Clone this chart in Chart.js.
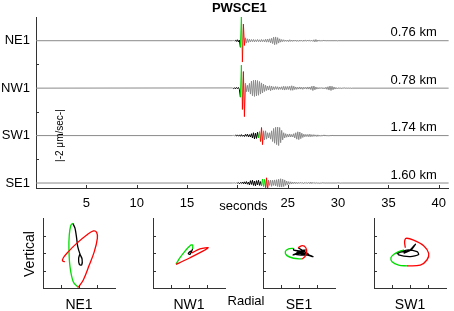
<!DOCTYPE html>
<html>
<head>
<meta charset="utf-8">
<script src="https://cdn.jsdelivr.net/npm/chart.js@4.4.1/dist/chart.umd.min.js"></script>
<style>
  html, body { margin: 0; padding: 0; background: #fff; }
  #wrap { position: relative; width: 454px; height: 311px; }
  #wrap canvas { position: absolute; left: 0; top: 0; }
</style>
</head>
<body>
<div id="wrap">
  <canvas id="traces" width="454" height="311"></canvas>
  <canvas id="pm0" width="454" height="311"></canvas>
  <canvas id="pm1" width="454" height="311"></canvas>
  <canvas id="pm2" width="454" height="311"></canvas>
  <canvas id="pm3" width="454" height="311"></canvas>
</div>
<script>
// ---- data ----
const stations = ["NE1", "NW1", "SW1", "SE1"];
const distances = ["0.76 km", "0.78 km", "1.74 km", "1.60 km"];
const offsets = [6, 4, 2, 0];
const xTicks = [5, 10, 15, 20, 25, 30, 35, 40];
const xTickLabels = ["5", "10", "15", "", "25", "30", "35", "40"];

// velocity samples (µm/s), every 0.1 s from 19.5 s
const sampleStart = 19.5;
const sampleStep = 0.1;
const ne1Wave = [
  0, 0.01, -0.01, 0.02, -0.03, 0.04, -0.05, 0.03, -0.28, 1.0,
  -0.9, 0.7, -0.2, 0.12, -0.1, 0.08, -0.07, 0.06, -0.05, 0.05,
  -0.04, 0.05, -0.05, 0.04, -0.04, 0.05, -0.04, 0.04, -0.05, 0.05,
  -0.04, 0.04, -0.05, 0.06, -0.06, 0.07, -0.06, 0.08, -0.09, 0.1,
  -0.12, 0.15, -0.17, 0.16, -0.15, 0.13, -0.1, 0.08, -0.06, 0.05,
  -0.04, 0.04, -0.03, 0.03, -0.03, 0.03, -0.04, 0.04, -0.03, 0.03,
  -0.03, 0.03, -0.02, 0.03, -0.03, 0.02, -0.03, 0.03, -0.02, 0.02,
  -0.03, 0.03, -0.02, 0.02, -0.02, 0.03, -0.02, 0.02, -0.02, 0.02,
  -0.03, 0.04, -0.05, 0.05, -0.04, 0.03, -0.02, 0.02, -0.02, 0.01,
  -0.01, 0.02, -0.01, 0.01, -0.01, 0.01, -0.01, 0.01, -0.01, 0.01,
  -0.01, 0.01, -0.01, 0.01, -0.01, 0
];
const nw1Wave = [
  0.01, -0.02, 0.02, -0.03, 0.03, -0.02, 0.03, -0.05, -0.38, 0.97,
  -0.9, 0.7, -1.2, 0.2, -0.15, 0.12, -0.15, 0.2, -0.25, 0.3,
  -0.32, 0.33, -0.35, 0.34, -0.33, 0.32, -0.3, 0.28, -0.25, 0.22,
  -0.2, 0.17, -0.14, 0.12, -0.1, 0.09, -0.08, 0.1, -0.11, 0.09,
  -0.08, 0.06, -0.06, 0.07, -0.05, 0.06, -0.06, 0.05, -0.05, 0.06,
  -0.07, 0.08, -0.08, 0.07, -0.06, 0.07, -0.06, 0.08, -0.09, 0.1,
  -0.09, 0.08, -0.06, 0.05, -0.05, 0.04, -0.04, 0.05, -0.04, 0.04,
  -0.05, 0.04, -0.03, 0.04, -0.04, 0.05, -0.04, 0.05, -0.06, 0.08,
  -0.1, 0.09, -0.07, 0.05, -0.04, 0.03, -0.03, 0.03, -0.02, 0.03,
  -0.03, 0.02, -0.03, 0.04, -0.05, 0.06, -0.08, 0.09, -0.1, 0.08,
  -0.07, 0.05, -0.04, 0.03, -0.03, 0.02, -0.02, 0.02, -0.02, 0.01,
  -0.01, 0.02, -0.01, 0.01, -0.01, 0.01, -0.01, 0.01, -0.01, 0
];
const sw1Wave = [
  0, 0.01, -0.01, 0.02, -0.02, 0.03, -0.02, 0.02, -0.03, 0.04,
  -0.03, 0.02, -0.04, 0.05, -0.03, 0.06, -0.05, 0.04, -0.06, 0.08,
  -0.1, 0.12, -0.14, 0.1, -0.12, 0.14, -0.1, 0.17, -0.25, 0.34,
  -0.38, 0.2, -0.18, 0.2, -0.15, 0.12, -0.1, 0.12, -0.15, 0.2,
  -0.25, 0.3, -0.32, 0.35, -0.38, 0.36, -0.42, 0.34, -0.3, 0.22,
  -0.18, 0.12, -0.1, 0.08, -0.07, 0.06, -0.06, 0.07, -0.06, 0.05,
  -0.06, 0.08, -0.1, 0.12, -0.15, 0.16, -0.17, 0.15, -0.13, 0.1,
  -0.08, 0.06, -0.05, 0.05, -0.04, 0.05, -0.05, 0.06, -0.05, 0.04,
  -0.04, 0.04, -0.03, 0.03, -0.04, 0.03, -0.03, 0.02, -0.03, 0.02,
  -0.02, 0.03, -0.02, 0.02, -0.02, 0.01, -0.02, 0.01, -0.01, 0.01,
  0
];
const se1Wave = [
  0, 0, 0.01, -0.01, 0.01, -0.01, 0.02, -0.03, 0.02, -0.02,
  0.04, -0.03, 0.05, -0.04, 0.06, -0.05, 0.04, -0.08, 0.1, -0.06,
  0.12, -0.1, 0.08, -0.12, 0.1, -0.08, 0.12, -0.1, 0.06, -0.12,
  0.17, -0.15, 0.15, -0.2, 0.22, -0.28, 0.12, -0.1, 0.12, -0.14,
  0.12, -0.1, 0.13, -0.12, 0.14, -0.15, 0.16, -0.17, 0.18, -0.17,
  0.16, -0.15, 0.13, -0.1, 0.08, -0.07, 0.06, -0.05, 0.05, -0.04,
  0.04, -0.03, 0.04, -0.03, 0.03, -0.03, 0.03, -0.02, 0.03, -0.02,
  0.02, -0.03, 0.03, -0.02, 0.02, -0.02, 0.03, -0.03, 0.04, -0.03,
  0.03, -0.02, 0.02, -0.02, 0.02, -0.02, 0.01, -0.02, 0.01, -0.01,
  0.02, -0.01, 0.01, -0.01, 0.01, -0.01, 0.01, -0.01, 0.01, -0.01,
  0.01, -0.01, 0.01, -0.01, 0.01, 0, 0.01, -0.01, 0, 0
];
// time windows: [black start, green start, red start, red end]
const ne1Picks = [19.8, 20.3, 20.5, 20.8];
const nw1Picks = [19.6, 20.3, 20.5, 20.8];
const sw1Picks = [19.8, 22.1, 22.3, 22.6];
const se1Picks = [20.0, 22.4, 22.8, 23.1];

// particle motion (radial, vertical)
const pmStations = ["NE1", "NW1", "SE1", "SW1"];
const pmBlack = [
  [[1.65, 3.7], [1.78, 3.41], [1.87, 2.84], [1.93, 2.36], [2.06, 1.92], [2.17, 1.66], [2.15, 1.31], [2.02, 1.35], [1.98, 1.7], [2.06, 1.98]],
  [[2.2, 2.23], [2.06, 1.92], [1.96, 1.96], [2.09, 2.11], [2.15, 2.0]],
  [[1.7, 2.27], [1.7, 2.17], [2.26, 2.08], [1.8, 1.92], [2.44, 1.89], [1.98, 2.11], [2.78, 1.79], [2.07, 1.98], [1.67, 1.89], [2.35, 2.17], [1.89, 2.04], [2.54, 1.92], [1.95, 2.3]],
  [[1.65, 2.17], [1.28, 1.98], [1.83, 2.17], [2.39, 2.08], [2.48, 1.92], [2.02, 1.79], [1.37, 1.89], [1.33, 2.04], [1.93, 2.11], [2.3, 2.5], [2.06, 2.17], [1.65, 1.98]]
];
const pmGreen = [
  [[1.96, 0.03], [1.68, 0.36], [1.5, 1.22], [1.44, 2.27], [1.46, 3.03], [1.54, 3.56], [1.65, 3.7]],
  [[1.28, 1.37], [1.5, 1.73], [1.78, 2.11], [2.06, 2.42], [2.2, 2.46], [2.2, 2.23]],
  [[2.17, 1.66], [1.7, 1.7], [1.33, 1.85], [1.24, 2.08], [1.42, 2.23], [1.7, 2.27]],
  [[1.83, 1.26], [1.37, 1.31], [1.0, 1.5], [0.94, 1.73], [1.09, 1.92], [1.37, 2.08], [1.65, 2.17]]
];
const pmRed = [
  [[1.96, 0.03], [2.24, 0.46], [2.57, 1.31], [2.85, 2.08], [3.02, 2.84], [2.98, 3.18], [2.8, 3.26], [2.43, 3.03], [1.87, 2.55], [1.41, 2.08], [1.13, 1.73], [1.09, 1.54], [1.22, 1.5]],
  [[2.15, 2.0], [2.61, 2.23], [3.07, 2.3], [2.61, 2.02], [2.06, 1.73], [1.59, 1.5], [1.28, 1.35]],
  [[1.95, 2.3], [2.19, 2.42], [2.38, 2.3], [2.42, 2.04], [2.33, 1.79], [2.17, 1.66]],
  [[1.74, 2.3], [1.7, 2.65], [1.78, 2.84], [2.2, 2.74], [2.76, 2.42], [3.04, 1.98], [2.94, 1.6], [2.57, 1.31], [1.83, 1.26]]
];
const pmTicks = [1, 2, 3];

// ---- style ----
const FONT = '"Liberation Sans", Arial, Helvetica, sans-serif';
const GRAY = '#8a8a8a';
const BLACK = '#000';
const GREEN = '#00dd00';
const RED = '#ff0000';
const AXIS = '#333';
Chart.defaults.font.family = FONT;

const waves = [ne1Wave, nw1Wave, sw1Wave, se1Wave];
const picks = [ne1Picks, nw1Picks, sw1Picks, se1Picks];

function tracePoints(wave, offset) {
  const pts = [{ x: 0, y: offset }];
  wave.forEach((v, i) => {
    pts.push({ x: Math.round((sampleStart + i * sampleStep) * 10) / 10, y: offset + v });
  });
  pts.push({ x: 41, y: offset });
  return pts;
}

function segColor(p, t) {
  if (t < p[0] - 1e-6) return GRAY;
  if (t < p[1] - 1e-6) return BLACK;
  if (t < p[2] - 1e-6) return GREEN;
  if (t < p[3] - 1e-6) return RED;
  return GRAY;
}

// ticks pointing into the plot
const inwardTicks = {
  id: 'inwardTicks',
  afterDraw(chart, args, opts) {
    const { ctx, chartArea: a, scales } = chart;
    ctx.save();
    ctx.strokeStyle = AXIS;
    ctx.lineWidth = 1;
    ctx.beginPath();
    (opts.x || []).forEach(v => {
      const px = Math.round(scales.x.getPixelForValue(v)) + 0.5;
      ctx.moveTo(px, a.bottom);
      ctx.lineTo(px, a.bottom - opts.len);
    });
    (opts.y || []).forEach(v => {
      const py = Math.round(scales.y.getPixelForValue(v)) + 0.5;
      ctx.moveTo(a.left, py);
      ctx.lineTo(a.left + opts.len, py);
    });
    ctx.stroke();
    ctx.restore();
  }
};

const traceLabels = {
  id: 'traceLabels',
  afterDraw(chart) {
    const { ctx, chartArea: a, scales: { x, y } } = chart;
    ctx.save();
    ctx.fillStyle = '#000';
    ctx.font = '13px ' + FONT;
    ctx.textBaseline = 'middle';
    stations.forEach((s, i) => {
      const py = y.getPixelForValue(offsets[i]);
      ctx.textAlign = 'right';
      ctx.fillText(s, a.left - 6, py);
      ctx.fillText(distances[i], x.getPixelForValue(39.8), py - 8);
    });
    ctx.textAlign = 'center';
    ctx.textBaseline = 'alphabetic';
    ctx.font = 'bold 13px ' + FONT;
    ctx.fillText('PWSCE1', x.getPixelForValue(20.2), 12);
    ctx.font = '13px ' + FONT;
    ctx.fillText('seconds', x.getPixelForValue(20.6), 210);
    ctx.fillText('Radial', 246, 305);
    // scale bar
    ctx.translate(60, y.getPixelForValue(2));
    ctx.rotate(-Math.PI / 2);
    ctx.font = '10px ' + FONT;
    ctx.textBaseline = 'middle';
    ctx.fillText('|-2 μm/sec-|', 0, 0);
    ctx.restore();
  }
};

new Chart(document.getElementById('traces'), {
  type: 'line',
  data: {
    datasets: waves.map((w, i) => ({
      label: stations[i],
      data: tracePoints(w, offsets[i]),
      borderColor: GRAY,
      borderWidth: 1,
      pointRadius: 0,
      tension: 0,
      segment: { borderColor: ctx => segColor(picks[i], ctx.p0.parsed.x) }
    }))
  },
  options: {
    responsive: false,
    animation: false,
    layout: { padding: { left: 36, right: 2, top: 17, bottom: 99 } },
    scales: {
      x: {
        type: 'linear',
        min: 0, max: 41,
        afterBuildTicks: axis => { axis.ticks = xTicks.map(v => ({ value: v })); },
        afterFit: s => { s.height = 24; },
        grid: { drawOnChartArea: false, drawTicks: false },
        border: { display: true, color: AXIS, width: 1 },
        ticks: {
          color: '#000', font: { size: 13 }, padding: 8, maxRotation: 0, autoSkip: false,
          callback: (v, i) => xTickLabels[i]
        }
      },
      y: {
        min: -0.21, max: 7.0,
        afterFit: s => { s.width = 0; },
        grid: { drawOnChartArea: false, drawTicks: false },
        border: { display: true, color: AXIS, width: 1 },
        ticks: { display: false }
      }
    },
    plugins: {
      legend: { display: false },
      tooltip: { enabled: false },
      inwardTicks: { x: xTicks, y: [1, 3, 5], len: 3 }
    }
  },
  plugins: [inwardTicks, traceLabels]
});

// particle motion panels
const pmLeft = [43, 153, 263, 374];
const pmWidth = 72;

const pmLabel = {
  id: 'pmLabel',
  afterDraw(chart, args, opts) {
    const { ctx, chartArea: a } = chart;
    ctx.save();
    ctx.fillStyle = '#000';
    ctx.font = '14px ' + FONT;
    ctx.textAlign = 'center';
    ctx.fillText(opts.name, (a.left + a.right) / 2, a.bottom + 21);
    if (opts.vertical) {
      ctx.translate(a.left - 9, (a.top + a.bottom) / 2 + 1);
      ctx.rotate(-Math.PI / 2);
      ctx.fillText('Vertical', 0, 0);
    }
    ctx.restore();
  }
};

pmStations.forEach((name, k) => {
  const line = (data, color, tension) => ({
    data: data,
    borderColor: color,
    borderWidth: 1.3,
    pointRadius: 0,
    showLine: true,
    tension: tension
  });
  new Chart(document.getElementById('pm' + k), {
    type: 'scatter',
    data: {
      datasets: [
        line(pmRed[k], RED, 0.35),
        line(pmGreen[k], GREEN, 0.35),
        line(pmBlack[k], BLACK, 0.25)
      ]
    },
    options: {
      responsive: false,
      animation: false,
      layout: { padding: { left: pmLeft[k], right: 454 - pmLeft[k] - pmWidth, top: 218, bottom: 23 } },
      scales: {
        x: {
          min: 0, max: 4,
          afterFit: s => { s.height = 0; },
          grid: { display: false },
          border: { display: true, color: AXIS, width: 1 },
          ticks: { display: false }
        },
        y: {
          min: 0, max: 4,
          afterFit: s => { s.width = 0; },
          grid: { display: false },
          border: { display: true, color: AXIS, width: 1 },
          ticks: { display: false }
        }
      },
      plugins: {
        legend: { display: false },
        tooltip: { enabled: false },
        inwardTicks: { x: pmTicks, y: pmTicks, len: 3 },
        pmLabel: { name: name, vertical: k === 0 }
      }
    },
    plugins: [inwardTicks, pmLabel]
  });
});
</script>
</body>
</html>
